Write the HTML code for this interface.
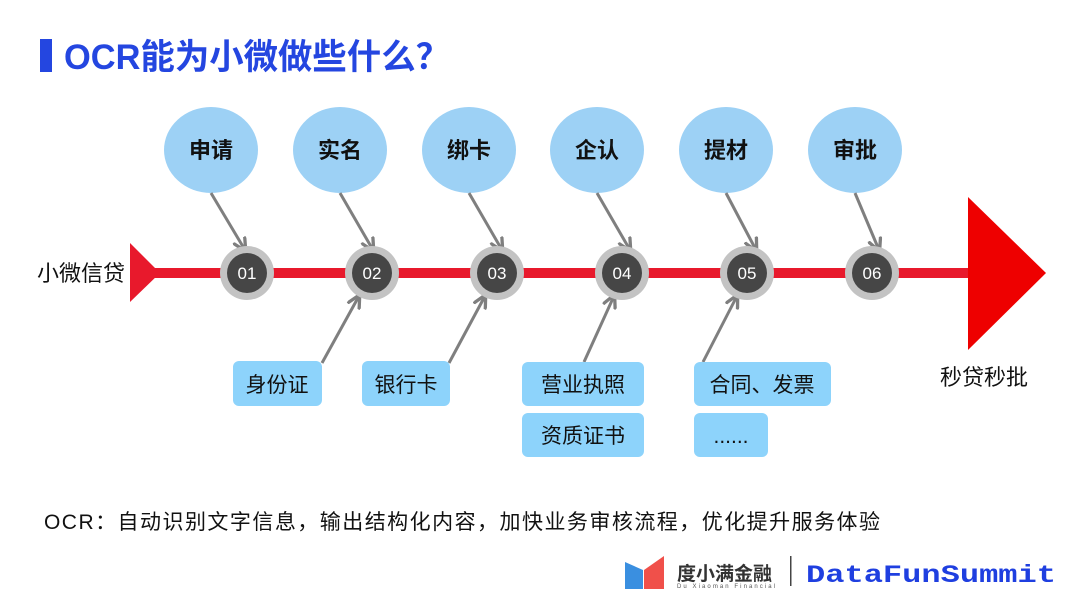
<!DOCTYPE html>
<html><head><meta charset="utf-8"><style>
body{margin:0;background:#fff;}
svg{display:block;font-family:"Liberation Sans","Noto Sans CJK SC",sans-serif;}
</style></head><body>
<svg width="1080" height="608" viewBox="0 0 1080 608">
<defs><marker id="a" viewBox="0 0 10 10" refX="8" refY="5" markerWidth="5" markerHeight="5" orient="auto"><path d="M0,0.5 L9,5 L0,9.5" fill="none" stroke="#7f7f7f" stroke-width="2.2"/></marker></defs>
<rect x="40" y="39" width="12" height="33" fill="#2446e0"/>
<text x="64" y="69" font-size="35" font-weight="bold" fill="#2446e0" textLength="386" lengthAdjust="spacingAndGlyphs">OCR能为小微做些什么？</text>
<g fill="#9dd1f5">
<ellipse cx="211" cy="150" rx="47" ry="43"/><ellipse cx="340" cy="150" rx="47" ry="43"/><ellipse cx="469" cy="150" rx="47" ry="43"/><ellipse cx="597" cy="150" rx="47" ry="43"/><ellipse cx="726" cy="150" rx="47" ry="43"/><ellipse cx="855" cy="150" rx="47" ry="43"/>
</g>
<g font-size="22" font-weight="bold" fill="#111" text-anchor="middle">
<text x="211" y="158">申请</text><text x="340" y="158">实名</text><text x="469" y="158">绑卡</text><text x="597" y="158">企认</text><text x="726" y="158">提材</text><text x="855" y="158">审批</text>
</g>
<rect x="150" y="268" width="825" height="10" fill="#e8192c"/>
<polygon points="130,243 160,273 130,302" fill="#e8192c"/>
<polygon points="968,197 1046,273 968,350" fill="#ee0000"/>
<g stroke="#7f7f7f" stroke-width="3" marker-end="url(#a)">
<line x1="211" y1="193" x2="245" y2="250"/><line x1="340" y1="193" x2="373" y2="250"/><line x1="469" y1="193" x2="502" y2="250"/><line x1="597" y1="193" x2="630" y2="250"/><line x1="726" y1="193" x2="756" y2="250"/><line x1="855" y1="193" x2="879" y2="250"/>
<line x1="322" y1="363" x2="359" y2="296"/><line x1="449" y1="363" x2="485" y2="296"/><line x1="584" y1="362" x2="614" y2="296"/><line x1="703" y1="362" x2="737" y2="296"/>
</g>
<g font-size="17" fill="#fff" text-anchor="middle">
<g><circle cx="247" cy="273" r="27" fill="#c3c3c3"/><circle cx="247" cy="273" r="20" fill="#464646"/><text x="247" y="279">01</text></g>
<g><circle cx="372" cy="273" r="27" fill="#c3c3c3"/><circle cx="372" cy="273" r="20" fill="#464646"/><text x="372" y="279">02</text></g>
<g><circle cx="497" cy="273" r="27" fill="#c3c3c3"/><circle cx="497" cy="273" r="20" fill="#464646"/><text x="497" y="279">03</text></g>
<g><circle cx="622" cy="273" r="27" fill="#c3c3c3"/><circle cx="622" cy="273" r="20" fill="#464646"/><text x="622" y="279">04</text></g>
<g><circle cx="747" cy="273" r="27" fill="#c3c3c3"/><circle cx="747" cy="273" r="20" fill="#464646"/><text x="747" y="279">05</text></g>
<g><circle cx="872" cy="273" r="27" fill="#c3c3c3"/><circle cx="872" cy="273" r="20" fill="#464646"/><text x="872" y="279">06</text></g>
</g>
<g fill="#8dd3fb">
<rect x="233" y="361" width="89" height="45" rx="6"/><rect x="362" y="361" width="88" height="45" rx="6"/>
<rect x="522" y="362" width="122" height="44" rx="6"/><rect x="522" y="413" width="122" height="44" rx="6"/>
<rect x="694" y="362" width="137" height="44" rx="6"/><rect x="694" y="413" width="74" height="44" rx="6"/>
</g>
<g font-size="21" fill="#111" text-anchor="middle">
<text x="277" y="392">身份证</text><text x="406" y="392">银行卡</text>
<text x="583" y="392">营业执照</text><text x="583" y="443">资质证书</text>
<text x="762" y="392">合同、发票</text><text x="731" y="443">......</text>
</g>
<text x="37" y="281" font-size="22" fill="#111">小微信贷</text>
<text x="940" y="385" font-size="22" fill="#111">秒贷秒批</text>
<text x="44" y="529" font-size="21" fill="#111" textLength="836" lengthAdjust="spacing">OCR：自动识别文字信息，输出结构化内容，加快业务审核流程，优化提升服务体验</text>
<polygon points="625,562 643,570 643,589 625,589" fill="#3a8fe0"/>
<polygon points="644,570 664,556 664,589 644,589" fill="#f0504a"/>
<text x="677" y="580" font-size="19" font-weight="bold" fill="#333">度小满金融</text>
<text x="677" y="588" font-size="6" fill="#555" textLength="98">Du Xiaoman Financial</text>
<rect x="790" y="556" width="1.5" height="30" fill="#444"/>
<text x="806" y="582" font-size="25" font-weight="bold" fill="#1f3fe0" font-family="Liberation Mono, monospace" textLength="250" lengthAdjust="spacingAndGlyphs">DataFunSummit</text>
</svg>
</body></html>
